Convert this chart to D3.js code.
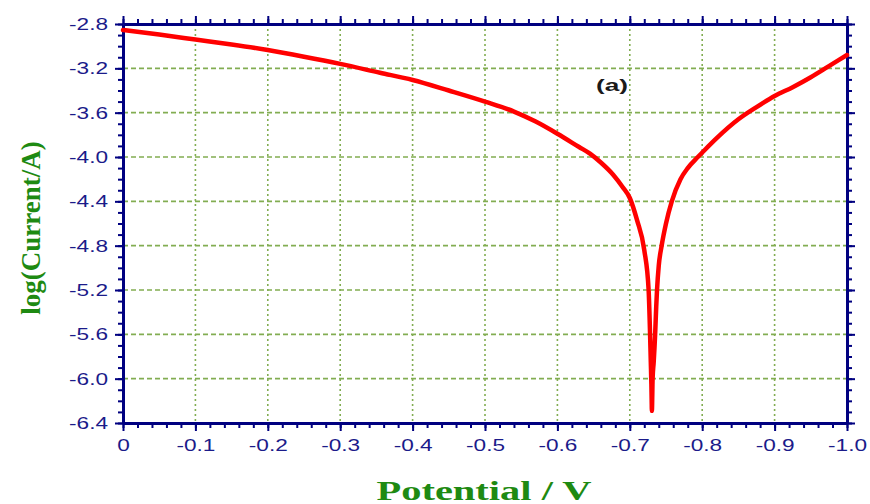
<!DOCTYPE html>
<html>
<head>
<meta charset="utf-8">
<script src="https://cdn.jsdelivr.net/npm/d3@7"></script>
<style>
    body { margin: 0; background: #fff; }
    svg { display: block; }
    .tick text { font-family: Arial, 'Liberation Sans', sans-serif; font-size: 17px; fill: #1b1b8a; }
</style>
</head>
<body>
<svg id="chart"></svg>
<script>
// Polarization curve, potential (V) vs log(Current/A).
const potential = [
    0, -0.05, -0.1, -0.15, -0.2, -0.25, -0.3, -0.355, -0.4, -0.45, -0.5, -0.54, -0.57, -0.6, -0.63,
    -0.645, -0.66, -0.677, -0.69, -0.7, -0.71, -0.72, -0.726, -0.728, -0.729, -0.7298, -0.7302, -0.7305,
    -0.7315, -0.733, -0.735, -0.7365, -0.7376, -0.74, -0.744, -0.75, -0.758, -0.77, -0.78, -0.794,
    -0.8, -0.82, -0.85, -0.875, -0.9, -0.925, -0.95, -0.975, -1.0,
];
const logCurrent = [
    -2.854, -2.895, -2.94, -2.985, -3.035, -3.095, -3.16, -3.24, -3.305, -3.4, -3.5, -3.59, -3.68, -3.79, -3.91,
    -3.97, -4.05, -4.16, -4.27, -4.37, -4.57, -4.84, -5.2, -5.6, -5.85, -6.05, -6.2, -6.29,
    -6.0, -5.85, -5.6, -5.35, -5.2, -4.98, -4.8, -4.6, -4.4, -4.2, -4.1, -4.0,
    -3.96, -3.83, -3.66, -3.55, -3.45, -3.37, -3.28, -3.18, -3.08,
];
const xTicks = [0, -0.1, -0.2, -0.3, -0.4, -0.5, -0.6, -0.7, -0.8, -0.9, -1.0];
const yTicks = [-2.8, -3.2, -3.6, -4.0, -4.4, -4.8, -5.2, -5.6, -6.0, -6.4];
const xTitle = 'Potential / V';
const yTitle = 'log(Current/A)';
const panelLabel = '(a)';

// Chart dimensions.
const width = 870;
const height = 504;
const marginLeft = 123;
const marginRight = 23;
const marginTop = 24;
const marginBottom = 81;
const axisColor = '#000080';
const gridColor = '#82ad52';
const titleColor = '#1e8a12';
const stretch = 1.33; // the reference text is drawn wider than normal

const x = d3.scaleLinear().domain([0, -1]).range([marginLeft, width - marginRight]);
const y = d3.scaleLinear().domain([-6.4, -2.8]).range([height - marginBottom, marginTop]);

const xMinor = d3.range(0, 51).map(i => -i * 0.02);
const yMinor = d3.range(0, 37).map(i => -2.8 - i * 0.1);

const svg = d3.select('#chart').attr('width', width).attr('height', height);

// Grid lines.
svg.append('g')
    .selectAll('line')
    .data(yTicks.slice(1, -1))
    .enter()
    .append('line')
    .attr('x1', marginLeft)
    .attr('x2', width - marginRight)
    .attr('y1', d => y(d))
    .attr('y2', d => y(d))
    .attr('stroke', gridColor)
    .attr('stroke-width', 1.6)
    .attr('stroke-dasharray', '5,3');

svg.append('g')
    .selectAll('line')
    .data(xTicks.slice(1, -1))
    .enter()
    .append('line')
    .attr('x1', d => x(d))
    .attr('x2', d => x(d))
    .attr('y1', marginTop)
    .attr('y2', height - marginBottom)
    .attr('stroke', gridColor)
    .attr('stroke-width', 1.6)
    .attr('stroke-dasharray', '2,3');

// Axes: labels on bottom/left, plain ticks on top/right.
function styleAxis(g) {
    g.select('.domain').attr('stroke', axisColor).attr('stroke-width', 3);
    g.selectAll('.tick line').attr('stroke', axisColor).attr('stroke-width', 2);
}

function widenLabels(g) {
    g.selectAll('.tick text').each(function () {
        const len = this.getComputedTextLength();
        d3.select(this).attr('textLength', len * stretch).attr('lengthAdjust', 'spacingAndGlyphs');
    });
}

// plain hyphen instead of the unicode minus d3.format gives
const fmtY = d => d.toFixed(1);
const fmtX = d => (d === 0 ? '0' : d.toFixed(1));

svg.append('g')
    .attr('transform', `translate(0, ${height - marginBottom})`)
    .call(d3.axisBottom(x).tickValues(xMinor).tickFormat('').tickSize(5).tickSizeOuter(0))
    .call(styleAxis);
svg.append('g')
    .attr('transform', `translate(0, ${height - marginBottom})`)
    .call(d3.axisBottom(x).tickValues(xTicks).tickFormat(fmtX).tickSize(8).tickPadding(8).tickSizeOuter(0))
    .call(styleAxis)
    .call(widenLabels);

svg.append('g')
    .attr('transform', `translate(0, ${marginTop})`)
    .call(d3.axisTop(x).tickValues(xMinor).tickFormat('').tickSize(5).tickSizeOuter(0))
    .call(styleAxis);
svg.append('g')
    .attr('transform', `translate(0, ${marginTop})`)
    .call(d3.axisTop(x).tickValues(xTicks).tickFormat('').tickSize(8).tickSizeOuter(0))
    .call(styleAxis);

svg.append('g')
    .attr('transform', `translate(${marginLeft}, 0)`)
    .call(d3.axisLeft(y).tickValues(yMinor).tickFormat('').tickSize(5).tickSizeOuter(0))
    .call(styleAxis);
svg.append('g')
    .attr('transform', `translate(${marginLeft}, 0)`)
    .call(d3.axisLeft(y).tickValues(yTicks).tickFormat(fmtY).tickSize(8).tickPadding(7).tickSizeOuter(0))
    .call(styleAxis)
    .call(widenLabels);

svg.append('g')
    .attr('transform', `translate(${width - marginRight}, 0)`)
    .call(d3.axisRight(y).tickValues(yMinor).tickFormat('').tickSize(5).tickSizeOuter(0))
    .call(styleAxis);
svg.append('g')
    .attr('transform', `translate(${width - marginRight}, 0)`)
    .call(d3.axisRight(y).tickValues(yTicks).tickFormat('').tickSize(8).tickSizeOuter(0))
    .call(styleAxis);

// The curve.
const points = potential.map((p, i) => [p, logCurrent[i]]);
const line = d3.line().x(d => x(d[0])).y(d => y(d[1])).curve(d3.curveMonotoneX);

svg.append('path')
    .datum(points)
    .attr('d', line)
    .attr('fill', 'none')
    .attr('stroke', '#ff0000')
    .attr('stroke-width', 4.5)
    .attr('stroke-linejoin', 'round')
    .attr('stroke-linecap', 'round');

// Panel label.
svg.append('text')
    .attr('x', 596)
    .attr('y', 91)
    .attr('font-family', 'Arial, "Liberation Sans", sans-serif')
    .attr('font-weight', 'bold')
    .attr('font-size', 16)
    .attr('fill', '#1a1a1a')
    .attr('textLength', 32)
    .attr('lengthAdjust', 'spacingAndGlyphs')
    .text(panelLabel);

// Axis titles.
svg.append('text')
    .attr('transform', `translate(484, 500) scale(1.5, 1)`)
    .attr('text-anchor', 'middle')
    .attr('font-family', '"Liberation Serif", "Times New Roman", serif')
    .attr('font-weight', 'bold')
    .attr('font-size', 27)
    .attr('fill', titleColor)
    .text(xTitle);

svg.append('text')
    .attr('transform', `translate(40, 228) rotate(-90)`)
    .attr('text-anchor', 'middle')
    .attr('font-family', '"Liberation Serif", "Times New Roman", serif')
    .attr('font-weight', 'bold')
    .attr('font-size', 27)
    .attr('fill', titleColor)
    .text(yTitle);
</script>
</body>
</html>
